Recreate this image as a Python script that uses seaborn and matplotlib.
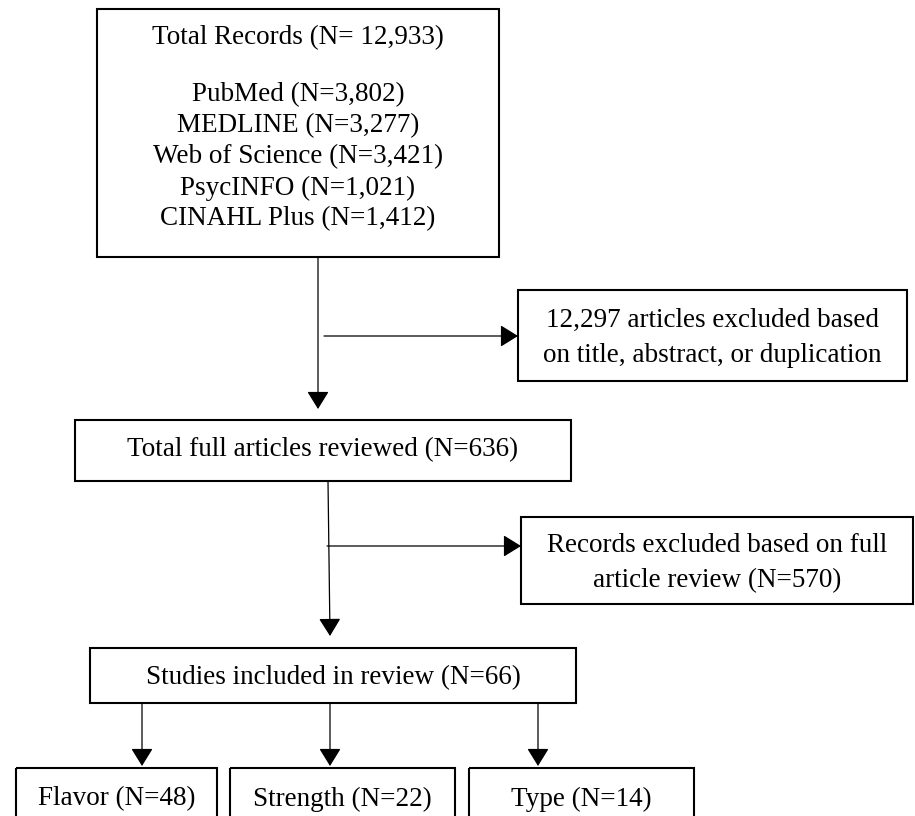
import matplotlib
matplotlib.use("Agg")
import matplotlib.pyplot as plt
import seaborn as sns
from matplotlib.patches import Rectangle

# flow counts
total_records = 12933
sources = ["PubMed", "MEDLINE", "Web of Science", "PsycINFO", "CINAHL Plus"]
source_counts = [3802, 3277, 3421, 1021, 1412]
excluded_screen = 12297
full_reviewed = 636
excluded_full = 570
included = 66
categories = ["Flavor", "Strength", "Type"]
category_counts = [48, 22, 14]

sns.set_style("white")
plt.rcParams["font.family"] = ["Liberation Serif", "DejaVu Serif"]

W, H = 915, 816
fig = plt.figure(figsize=(W / 100, H / 100), dpi=100)
ax = fig.add_axes([0, 0, 1, 1])
ax.set_xlim(0, W)
ax.set_ylim(H, 0)
ax.axis("off")

FS = 19.5
BOX_LW = 1.5
LINE_LW = 0.9


def box(x0, y0, x1, y1):
    ax.add_patch(Rectangle((x0, y0), x1 - x0, y1 - y0, fill=False,
                           edgecolor="black", lw=BOX_LW))


def label(x, y, s):
    ax.text(x, y + 2, s, ha="center", va="center", fontsize=FS, color="black")


def arrow(start, tip):
    ax.annotate("", xy=tip, xytext=start,
                arrowprops=dict(arrowstyle="-|>,head_length=0.55,head_width=0.34",
                                lw=LINE_LW, color="black", mutation_scale=20,
                                shrinkA=0, shrinkB=0))


# box 1: total records
box(97, 9, 499, 257)
label(298, 36, f"Total Records (N= {total_records:,})")
for i, (s, n) in enumerate(zip(sources, source_counts)):
    label(298, 93 + i * 31, f"{s} (N={n:,})")

# first exclusion
arrow((318, 257), (318, 409))
arrow((324, 336), (518, 336))
box(518, 290, 907, 381)
label(712, 318, f"{excluded_screen:,} articles excluded based")
label(712, 353, "on title, abstract, or duplication")

# box 3: full articles
box(75, 420, 571, 481)
label(323, 448, f"Total full articles reviewed (N={full_reviewed})")

# second exclusion
arrow((328, 481), (330, 636))
arrow((327, 546), (521, 546))
box(521, 517, 913, 604)
label(717, 544, "Records excluded based on full")
label(717, 579, f"article review (N={excluded_full})")

# box 5: included
box(90, 648, 576, 703)
label(333, 676, f"Studies included in review (N={included})")

# category boxes
cat_boxes = [(16, 217), (230, 455), (469, 694)]
arrow_x = [142, 330, 538]
for (x0, x1), ax_x, c, n in zip(cat_boxes, arrow_x, categories, category_counts):
    arrow((ax_x, 703), (ax_x, 766))
    box(x0, 768, x1, 840)
    label((x0 + x1) / 2, 797, f"{c} (N={n})")

fig.savefig("out.png", dpi=100, facecolor="white")
